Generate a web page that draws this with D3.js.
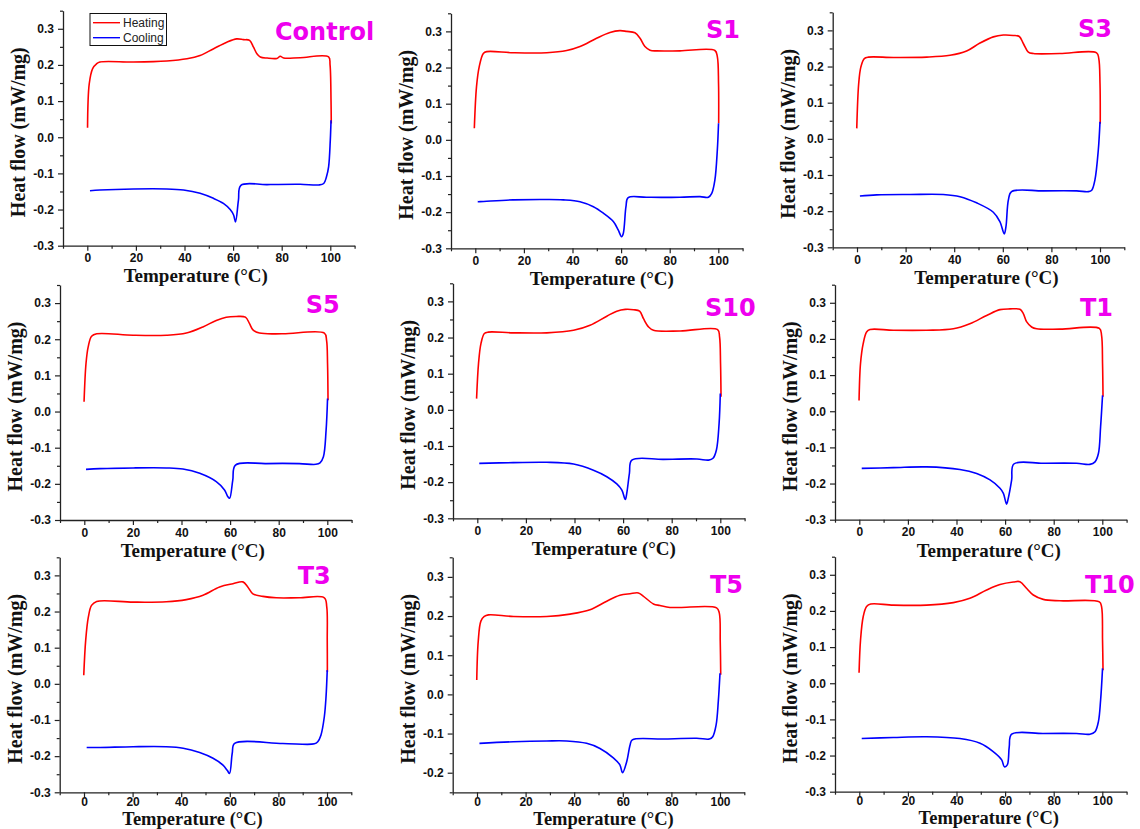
<!DOCTYPE html>
<html>
<head>
<meta charset="utf-8">
<script src="https://cdn.jsdelivr.net/npm/d3@7"></script>
<style>
  body { margin: 0; background: #fff; }
  svg { display: block; }
</style>
</head>
<body>
<div id="chart"></div>
<script>
// DSC thermograms, heating (red) and cooling (blue) per sample
var sampleNames = ["Control", "S1", "S3", "S5", "S10", "T1", "T3", "T5", "T10"];
var seriesNames = ["Heating", "Cooling"];

var xTickValues = [0, 20, 40, 60, 80, 100];
var xMinorValues = [-10, 10, 30, 50, 70, 90, 110];
var yTickValues = [-0.3, -0.2, -0.1, 0.0, 0.1, 0.2, 0.3];
var yMinorValues = [-0.25, -0.15, -0.05, 0.05, 0.15, 0.25, 0.35];
var yTickValuesT5 = [-0.2, -0.1, 0.0, 0.1, 0.2, 0.3];
var yMinorValuesT5 = [-0.25, -0.15, -0.05, 0.05, 0.15, 0.25, 0.35];
var xDomain = [-10, 110];
var yDomains = [[-0.3, 0.35], [-0.3, 0.35], [-0.3, 0.35], [-0.3, 0.35], [-0.3, 0.35],
  [-0.3, 0.35], [-0.3, 0.35], [-0.25, 0.35], [-0.3, 0.35]];

// [temperature, heat flow]
var controlHeating = [[0.1, 0.026], [0.8, 0.148], [2.2, 0.19], [3.8, 0.203], [5.2, 0.208], [19, 0.208],
  [32.7, 0.211], [41, 0.217], [46.4, 0.226], [52, 0.245], [57.4, 0.263], [61.5, 0.272], [64.3, 0.27],
  [66.8, 0.268], [68.4, 0.249], [69.8, 0.231], [71.2, 0.222], [74, 0.219], [78, 0.218], [79.4, 0.224],
  [80.8, 0.219], [87.6, 0.22], [99.3, 0.222], [99.9, 0.2], [100.3, 0.1], [100.4, 0.038]];
var controlCooling = [[100.3, 0.047], [100, -0.008], [99.3, -0.082], [98.4, -0.11], [97.3, -0.128],
  [95.2, -0.132], [87.6, -0.13], [74, -0.131], [63.2, -0.133], [62.2, -0.174], [61, -0.234],
  [60.2, -0.215], [58.8, -0.2], [56, -0.183], [51.9, -0.169], [46.4, -0.155], [39.6, -0.146],
  [32.7, -0.143], [19, -0.143], [5.2, -0.146], [1.1, -0.148]];

var s1Heating = [[-0.4, 0.032], [0.5, 0.147], [1.6, 0.202], [3.3, 0.239], [4.7, 0.244], [15.6, 0.241],
  [29.4, 0.241], [37.6, 0.247], [43.1, 0.258], [49.9, 0.281], [55.4, 0.297], [59.5, 0.302], [62.3, 0.3],
  [65.7, 0.296], [67.8, 0.281], [69.8, 0.258], [71.9, 0.248], [74.6, 0.246], [84.2, 0.246], [98.6, 0.247],
  [99.6, 0.23], [100.1, 0.156], [100.15, 0.046]];
var s1Cooling = [[100.1, 0.046], [99.6, -0.028], [98.6, -0.111], [97.3, -0.148], [95.9, -0.159],
  [92.5, -0.157], [84.2, -0.159], [70.5, -0.159], [62.9, -0.16], [62, -0.185], [60.9, -0.259],
  [60.2, -0.268], [58.8, -0.249], [56.8, -0.226], [52.7, -0.203], [48.6, -0.185], [43.1, -0.171],
  [36.2, -0.166], [29.4, -0.165], [15.6, -0.166], [1.9, -0.171], [1, -0.171]];

var s3Heating = [[-0.1, 0.029], [0.7, 0.153], [1.6, 0.199], [3, 0.222], [4.7, 0.226], [15, 0.225],
  [28.7, 0.226], [38.3, 0.231], [45.1, 0.243], [50.6, 0.265], [56.1, 0.282], [60.2, 0.287], [64.3, 0.286],
  [66.8, 0.283], [68.5, 0.263], [70.5, 0.24], [72.6, 0.236], [83.5, 0.236], [98.6, 0.238], [99.5, 0.222],
  [100, 0.153], [100.1, 0.042]];
var s3Cooling = [[100, 0.047], [99.3, -0.031], [97.9, -0.114], [96.6, -0.142], [95.2, -0.146],
  [90.4, -0.144], [76.7, -0.144], [63.6, -0.146], [62.3, -0.169], [61.3, -0.243], [60.6, -0.263],
  [58.8, -0.229], [56.1, -0.203], [49.2, -0.177], [42.4, -0.16], [35.5, -0.154], [21.8, -0.154],
  [8.1, -0.155], [1.2, -0.158]];

var s5Heating = [[-0.1, 0.027], [0.7, 0.133], [1.6, 0.179], [3, 0.208], [5.1, 0.215], [20.1, 0.211],
  [33.8, 0.211], [42, 0.217], [48.8, 0.234], [54.3, 0.252], [58.4, 0.261], [62.5, 0.263], [66.3, 0.261],
  [68, 0.243], [69.4, 0.226], [72.1, 0.217], [81.7, 0.215], [98.8, 0.217], [99.7, 0.197], [100.1, 0.133],
  [100.3, 0.031]];
var s5Cooling = [[100.1, 0.036], [99.5, -0.052], [98.4, -0.125], [97, -0.142], [95.3, -0.146],
  [88.5, -0.144], [74.8, -0.144], [62.2, -0.148], [61.1, -0.19], [59.8, -0.24], [59.1, -0.236],
  [57.7, -0.217], [54.3, -0.194], [47.5, -0.171], [40.6, -0.159], [33.8, -0.156], [20.1, -0.156],
  [6.4, -0.158], [0.7, -0.16]];

var s10Heating = [[-0.3, 0.031], [0.5, 0.128], [1.5, 0.183], [2.9, 0.211], [4.5, 0.215], [14.8, 0.213],
  [28.6, 0.213], [39.6, 0.22], [46.4, 0.234], [53.3, 0.259], [57.4, 0.273], [60.9, 0.278], [64.3, 0.277],
  [66.8, 0.273], [68.4, 0.252], [70.5, 0.229], [72.5, 0.22], [83.5, 0.218], [98.9, 0.222], [99.7, 0.202],
  [100.1, 0.128], [100.3, 0.036]];
var s10Cooling = [[100, 0.045], [99.5, -0.038], [98.4, -0.111], [97, -0.134], [95.2, -0.139],
  [90.4, -0.136], [76.6, -0.137], [63.6, -0.139], [62.6, -0.176], [61.5, -0.231], [60.9, -0.248],
  [59.5, -0.222], [57.4, -0.205], [53.3, -0.185], [47.8, -0.167], [39.6, -0.15], [28.6, -0.145],
  [14.8, -0.146], [0.8, -0.148]];

var t1Heating = [[-0.1, 0.03], [0.5, 0.132], [1.6, 0.187], [3, 0.219], [4.4, 0.226], [14, 0.224],
  [27.7, 0.224], [38.7, 0.228], [45.5, 0.242], [52.4, 0.265], [57.9, 0.281], [62, 0.283], [66.1, 0.282],
  [67.5, 0.27], [68.9, 0.247], [70.9, 0.233], [73, 0.228], [82.6, 0.227], [98.8, 0.229], [99.7, 0.21],
  [100.1, 0.132], [100.3, 0.04]];
var t1Cooling = [[100.1, 0.044], [99.3, -0.043], [98.4, -0.117], [97, -0.14], [94.9, -0.147],
  [89.4, -0.144], [75.7, -0.144], [63.6, -0.146], [62.7, -0.19], [61.3, -0.241], [60.6, -0.257],
  [59.3, -0.227], [57.9, -0.213], [53.8, -0.19], [48.3, -0.172], [41.4, -0.161], [27.7, -0.154],
  [14, -0.156], [1, -0.158]];

var t3Heating = [[-0.1, 0.024], [0.7, 0.121], [1.8, 0.185], [3.1, 0.217], [5.2, 0.228], [20.2, 0.226],
  [33.9, 0.227], [42.1, 0.233], [49, 0.245], [55.8, 0.268], [61.3, 0.277], [65.4, 0.282], [67.4, 0.268],
  [69.5, 0.249], [73.6, 0.242], [79.1, 0.238], [88.6, 0.238], [98.9, 0.238], [99.9, 0.213], [100.1, 0.121],
  [100.15, 0.033]];
var t3Cooling = [[100.1, 0.038], [99.6, -0.036], [98.9, -0.091], [97.5, -0.142], [96.2, -0.16],
  [94.8, -0.166], [81.8, -0.165], [62, -0.165], [61, -0.192], [59.9, -0.248], [59, -0.24],
  [57.2, -0.225], [53.1, -0.206], [47.6, -0.19], [40.8, -0.178], [33.9, -0.174], [20.2, -0.174],
  [6.6, -0.176], [1.1, -0.176]];

var t5Heating = [[-0.1, 0.037], [0.5, 0.135], [1.6, 0.187], [3, 0.199], [4.7, 0.203], [15, 0.199],
  [28.7, 0.199], [38.3, 0.205], [46.5, 0.216], [53.4, 0.238], [58.8, 0.253], [63, 0.257], [66.4, 0.259],
  [68.4, 0.251], [72.6, 0.231], [75.3, 0.227], [79.4, 0.222], [83.5, 0.222], [98.6, 0.221], [99.7, 0.208],
  [100.1, 0.135], [100.3, 0.05]];
var t5Cooling = [[100, 0.054], [99.3, -0.018], [98.4, -0.078], [97, -0.108], [95.6, -0.114],
  [90.4, -0.112], [76.7, -0.114], [63.9, -0.116], [63, -0.129], [61.6, -0.172], [59.9, -0.2],
  [58.8, -0.18], [56.1, -0.162], [50.6, -0.138], [45.1, -0.125], [36.9, -0.119], [28.7, -0.119],
  [15, -0.121], [1, -0.125]];

var t10Heating = [[-0.1, 0.029], [0.5, 0.119], [1.6, 0.184], [3, 0.212], [4.7, 0.219], [14, 0.216],
  [27.7, 0.216], [38.7, 0.223], [45.5, 0.235], [52.4, 0.258], [57.9, 0.273], [63.4, 0.28], [66.1, 0.281],
  [68.9, 0.262], [71.6, 0.244], [75.7, 0.232], [82.6, 0.228], [98.8, 0.225], [99.7, 0.212], [100.1, 0.119],
  [100.3, 0.036]];
var t10Cooling = [[100.1, 0.041], [99.3, -0.047], [98.4, -0.106], [97, -0.134], [94.9, -0.141],
  [89.4, -0.139], [75.7, -0.139], [62.7, -0.141], [61.7, -0.176], [60.9, -0.226], [59.7, -0.231],
  [58.6, -0.212], [55.1, -0.189], [49.7, -0.166], [41.4, -0.153], [27.7, -0.148], [14, -0.15],
  [1, -0.153]];

var heatingSeries = [controlHeating, s1Heating, s3Heating, s5Heating, s10Heating,
  t1Heating, t3Heating, t5Heating, t10Heating];
var coolingSeries = [controlCooling, s1Cooling, s3Cooling, s5Cooling, s10Cooling,
  t1Cooling, t3Cooling, t5Cooling, t10Cooling];

// Layout: where each small panel sits on the page
var svgWidth = 1140;
var svgHeight = 829;
var plotWidth = 291.6;
var plotHeight = 235;

var panelLayout = [
  { left: 63, bottom: 245.7, labelX: 275, labelY: 40 },
  { left: 451, bottom: 248.3, labelX: 706, labelY: 37.7 },
  { left: 832.7, bottom: 247.3, labelX: 1078, labelY: 36.7 },
  { left: 60, bottom: 520, labelX: 305.7, labelY: 313.3 },
  { left: 453, bottom: 518.3, labelX: 705, labelY: 316 },
  { left: 835, bottom: 519.7, labelX: 1080, labelY: 316 },
  { left: 59.7, bottom: 792.3, labelX: 297.7, labelY: 584 },
  { left: 452.7, bottom: 792.3, labelX: 710, labelY: 593 },
  { left: 835, bottom: 791.7, labelX: 1085, labelY: 593 }
];
// bottom row is squeezed against the page edge
var titleOffsetByRow = [36.5, 37, 32.5];
var titleSizeByRow = [19, 19, 18.5];
var tickPadByRow = [3, 3, 0];
var titleShiftByCol = [-13, 5, 8];

var svg = d3.select("#chart")
  .append("svg")
  .attr("width", svgWidth)
  .attr("height", svgHeight);

svg.append("rect")
  .attr("width", svgWidth)
  .attr("height", svgHeight)
  .attr("fill", "#fff");

function styleAxis(g) {
  g.select(".domain").attr("stroke", "#222").attr("stroke-width", 1.3);
  g.selectAll(".tick line").attr("stroke", "#222").attr("stroke-width", 1.2);
  g.selectAll(".tick text")
    .attr("fill", "#111")
    .attr("font-family", "'Liberation Sans', Arial, sans-serif")
    .attr("font-weight", "bold")
    .attr("font-size", "12px");
}

sampleNames.forEach(function(name, i) {
  var lay = panelLayout[i];
  var row = Math.floor(i / 3);
  var col = i % 3;
  var isT5 = name === "T5";

  var xScale = d3.scaleLinear().domain(xDomain).range([0, plotWidth]);
  var yScale = d3.scaleLinear().domain(yDomains[i]).range([plotHeight, 0]);

  var panel = svg.append("g")
    .attr("transform", `translate(${lay.left}, ${lay.bottom - plotHeight})`);

  // minor ticks first
  panel.append("g")
    .attr("transform", `translate(0, ${plotHeight})`)
    .call(d3.axisBottom(xScale).tickValues(xMinorValues).tickSize(3).tickFormat(""))
    .call(function(g) { g.select(".domain").remove(); })
    .call(styleAxis);

  panel.append("g")
    .call(d3.axisLeft(yScale).tickValues(isT5 ? yMinorValuesT5 : yMinorValues).tickSize(3).tickFormat(""))
    .call(function(g) { g.select(".domain").remove(); })
    .call(styleAxis);

  // major axes
  panel.append("g")
    .attr("transform", `translate(0, ${plotHeight})`)
    .call(d3.axisBottom(xScale)
      .tickValues(xTickValues)
      .tickSize(5)
      .tickSizeOuter(0)
      .tickPadding(tickPadByRow[row])
      .tickFormat(d3.format("d")))
    .call(styleAxis);

  panel.append("g")
    .call(d3.axisLeft(yScale)
      .tickValues(isT5 ? yTickValuesT5 : yTickValues)
      .tickSize(5)
      .tickSizeOuter(0)
      .tickPadding(4)
      .tickFormat(function(d) { return d.toFixed(1); }))
    .call(styleAxis);

  // curves
  var line = d3.line()
    .x(d => xScale(d[0]))
    .y(d => yScale(d[1]))
    .curve(d3.curveCatmullRom.alpha(0.5));

  panel.append("path")
    .datum(heatingSeries[i])
    .attr("fill", "none")
    .attr("stroke", "#ff0000")
    .attr("stroke-width", 1.6)
    .attr("d", line);

  panel.append("path")
    .datum(coolingSeries[i])
    .attr("fill", "none")
    .attr("stroke", "#0000ff")
    .attr("stroke-width", 1.6)
    .attr("d", line);

  // axis titles
  panel.append("text")
    .attr("x", plotWidth / 2 + titleShiftByCol[col])
    .attr("y", plotHeight + titleOffsetByRow[row])
    .attr("text-anchor", "middle")
    .attr("font-family", "'Liberation Serif', 'Times New Roman', serif")
    .attr("font-weight", "bold")
    .attr("font-size", titleSizeByRow[row] + "px")
    .attr("fill", "#111")
    .text("Temperature (°C)");

  panel.append("text")
    .attr("transform", `translate(-38, ${plotHeight / 2 + 4}) rotate(-90)`)
    .attr("text-anchor", "middle")
    .attr("font-family", "'Liberation Serif', 'Times New Roman', serif")
    .attr("font-weight", "bold")
    .attr("font-size", "20px")
    .attr("fill", "#111")
    .text("Heat flow (mW/mg)");

  // sample name
  svg.append("text")
    .attr("x", lay.labelX)
    .attr("y", lay.labelY)
    .attr("font-family", "'DejaVu Sans', sans-serif")
    .attr("font-weight", "bold")
    .attr("font-size", "24px")
    .attr("fill", "#ee00ee")
    .text(name);
});

// legend in the Control panel
var legend = svg.append("g").attr("transform", "translate(90, 13.5)");
legend.append("rect")
  .attr("width", 76.5)
  .attr("height", 32)
  .attr("fill", "#fff")
  .attr("stroke", "#111")
  .attr("stroke-width", 1);

var legendColors = ["#ff0000", "#0000ff"];
seriesNames.forEach(function(s, k) {
  var ly = 9.2 + k * 15;
  legend.append("line")
    .attr("x1", 3).attr("x2", 30)
    .attr("y1", ly).attr("y2", ly)
    .attr("stroke", legendColors[k])
    .attr("stroke-width", 1.4);
  legend.append("text")
    .attr("x", 33)
    .attr("y", ly + 4.3)
    .attr("font-family", "'Liberation Sans', Arial, sans-serif")
    .attr("font-size", "12px")
    .attr("fill", "#222")
    .text(s);
});
</script>
</body>
</html>
